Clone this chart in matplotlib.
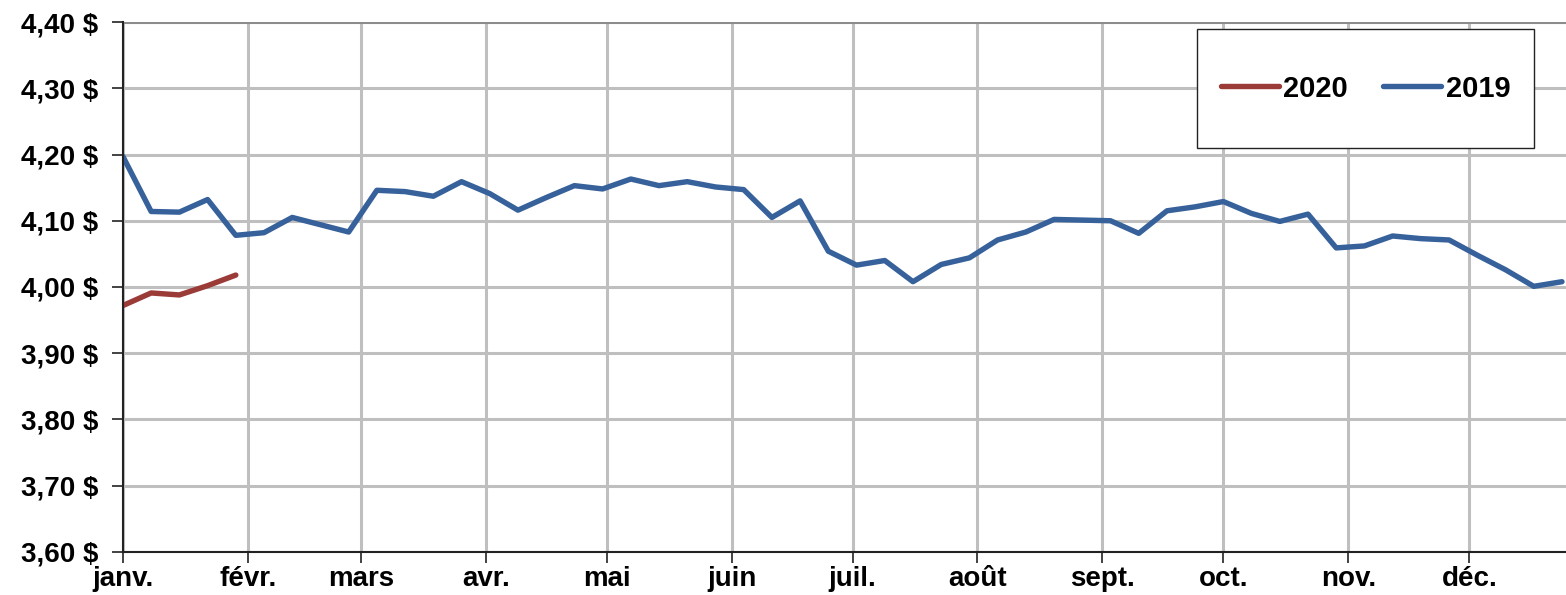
import matplotlib
matplotlib.use('Agg')
import matplotlib.pyplot as plt
from matplotlib.patches import Rectangle
import numpy as np

plt.rcParams['font.family'] = ['Liberation Sans', 'DejaVu Sans']
plt.rcParams['font.weight'] = 'bold'

# Données hebdomadaires (prix moyen, $)
semaines_2019 = np.arange('2019-01-01', '2019-12-25', 7, dtype='datetime64[D]')
prix_2019 = [4.197, 4.114, 4.113, 4.132, 4.078, 4.082, 4.105, 4.094, 4.083, 4.146,
             4.144, 4.137, 4.159, 4.141, 4.116, 4.135, 4.153, 4.148, 4.163, 4.153,
             4.159, 4.151, 4.147, 4.105, 4.130, 4.054, 4.033, 4.040, 4.008, 4.034,
             4.044, 4.071, 4.083, 4.102, 4.101, 4.100, 4.081, 4.115, 4.121, 4.129,
             4.111, 4.099, 4.110, 4.059, 4.062, 4.077, 4.073, 4.071, 4.048, 4.026,
             4.001, 4.008]
prix_2020 = [3.972, 3.991, 3.988, 4.002, 4.018]
semaines_2020 = semaines_2019[:len(prix_2020)]

mois = np.arange('2019-01', '2020-01', dtype='datetime64[M]').astype('datetime64[D]')
noms_mois = ['janv.', 'févr.', 'mars', 'avr.', 'mai', 'juin', 'juil.', 'août',
             'sept.', 'oct.', 'nov.', 'déc.']
graduations_y = np.arange(3.60, 4.401, 0.10)

bleu = '#37619A'
rouge = '#9B3B38'

fig = plt.figure(figsize=(15.66, 5.95), dpi=100)
ax = fig.add_axes([0.0785, 0.0723, 0.9215, 0.8907])

ax.plot(semaines_2020, prix_2020, color=rouge, lw=3.9, label='2020', solid_capstyle='round')
ax.plot(semaines_2019, prix_2019, color=bleu, lw=3.9, label='2019', solid_capstyle='round')

ax.set_xlim(np.datetime64('2019-01-01'), np.datetime64('2019-12-25'))
ax.set_ylim(3.60, 4.40)
ax.set_xticks(mois)
ax.set_xticklabels(noms_mois)
ax.set_yticks(graduations_y)
ax.set_yticklabels([f'{v:.2f} $'.replace('.', ',') for v in graduations_y])

ax.grid(True, color='#BFBFBF', lw=2.2)
ax.set_axisbelow(True)
ax.gridlines = ax.get_ygridlines()
ax.gridlines[-1].set_color('#8C8C8C')
for s in ['top', 'right']:
    ax.spines[s].set_visible(False)
for s in ['left', 'bottom']:
    ax.spines[s].set_color('#222222')
    ax.spines[s].set_linewidth(1.5)
ax.tick_params(axis='both', direction='out', length=8, width=1.2, color='#222222',
               labelsize=20)
ax.tick_params(axis='y', pad=10)
ax.tick_params(axis='x', pad=2)
for lab in ax.get_xticklabels() + ax.get_yticklabels():
    lab.set_fontweight('bold')

# cadre de la légende
cadre = Rectangle((0.744, 0.762), 0.234, 0.225, transform=ax.transAxes,
                  facecolor='white', edgecolor='#222222', lw=1.0, zorder=4)
ax.add_patch(cadre)
leg = ax.legend(loc='center', bbox_to_anchor=(0.744, 0.762, 0.234, 0.225), ncol=2,
                frameon=False, fontsize=21,
                handlelength=2.0, handletextpad=0.15, columnspacing=1.2, borderaxespad=0)
leg.set_zorder(5)
for t in leg.get_texts():
    t.set_fontweight('bold')

fig.savefig('out.png', dpi=100)
